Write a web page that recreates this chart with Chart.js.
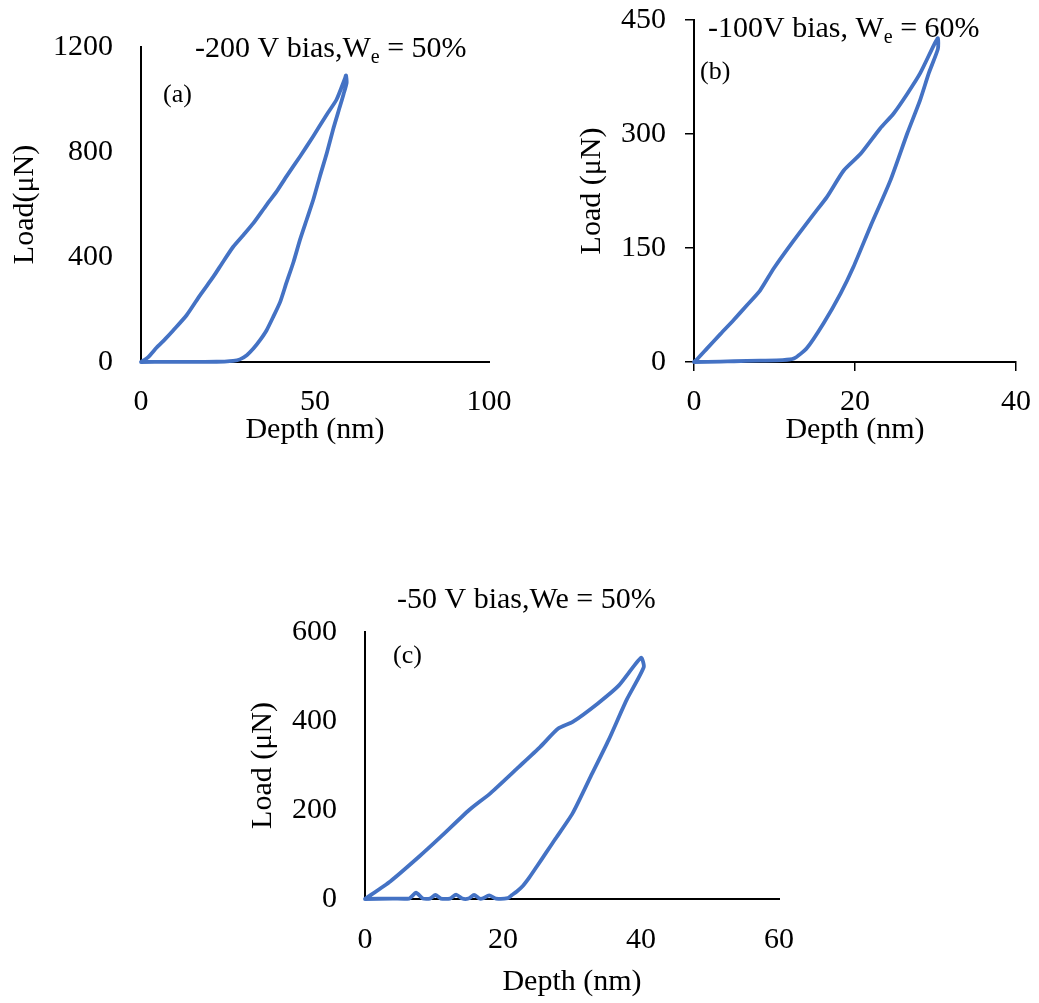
<!DOCTYPE html>
<html>
<head>
<meta charset="utf-8">
<title>Load-depth curves</title>
<script src="https://cdn.jsdelivr.net/npm/chart.js@4.4.1/dist/chart.umd.min.js"></script>
<style>
  body { margin: 0; background: #fff; width: 1039px; height: 1003px; position: relative; overflow: hidden; }
  canvas { position: absolute; }
</style>
</head>
<body>
<canvas id="chartA" width="520" height="460" style="left:0;top:0"></canvas>
<canvas id="chartB" width="479" height="460" style="left:560px;top:0"></canvas>
<canvas id="chartC" width="560" height="443" style="left:240px;top:560px"></canvas>
<script>
// (a) -200 V bias : loading, unloading, then back along zero
const depthA = [0, 2, 4.5, 7, 9.3, 13.1, 17, 20.8, 23.5, 26.5, 29.5, 32.3, 36.1, 39, 41.8, 45.7, 49.5, 53.4, 56.2, 58.6, 58.9,
  59.1, 58.2, 57.2, 55.2, 53.4, 51.4, 49.5, 47.6, 45.7, 43.8, 41.8, 40, 38, 36.1, 34.2, 32.3, 30.4, 28.4, 26.5, 24, 21.7, 15, 8, 0];
const loadA = [0, 18, 55, 88, 121, 178, 255, 325, 380, 439, 485, 529, 599, 650, 707, 783, 860, 943, 1000, 1080, 1092,
  1064, 1020, 975, 886, 796, 707, 618, 542, 466, 380, 302, 229, 172, 121, 83, 51, 26, 10, 4, 1.5, 1, 0.5, 0.3, 0];

// (b) -100 V bias
const depthB = [0, 0.5, 1.6, 3.3, 4.9, 6.6, 8.2, 9.9, 12.4, 14.9, 16.5, 18.6, 20.7, 23.1, 24.8, 26.5, 28.1, 29.8, 30.3,
  30.3, 29.2, 28.1, 26.5, 24.4, 21.9, 19.8, 18.2, 16.1, 14, 12.4, 11, 8.2, 5, 3.3, 0];
const loadB = [0, 5, 17.6, 37, 55, 75, 94, 123, 160, 195, 217, 252, 274, 307, 327, 353, 380, 417, 426,
  412, 381, 345, 301, 239, 178, 125, 90, 51, 18, 4.5, 2.5, 1.8, 1, 0.5, 0];

// (c) -50 V bias
const depthC = [0, 3.7, 7.9, 11, 15.1, 18.2, 22.3, 25.4, 28, 30.1, 33.7, 36.8, 40,
  40.4, 37.9, 35.3, 32.7, 30.1, 27.5, 26.2, 24.9, 23.8, 22.9, 22, 21.3, 20.7,
  19, 18, 17, 16.6, 15.8, 15, 14.1, 13.2, 12.3, 11, 10.2, 9.4, 8.4, 7.4, 6.4, 4, 0];
const loadC = [0, 40, 96, 140, 200, 238, 297, 342, 383, 398, 439, 480, 542,
  521, 447, 357, 275, 193, 133, 103, 73, 48, 30, 17, 9, 2,
  1, 8, 1, 1, 9, 1, 1, 10, 1, 1, 9, 1, 1, 14, 1, 1, 0];

// axis ticks
const xTicksA = [0, 50, 100];
const yTicksA = [0, 400, 800, 1200];
const xTicksB = [0, 20, 40];
const yTicksB = [0, 150, 300, 450];
const xTicksC = [0, 20, 40, 60];
const yTicksC = [0, 200, 400, 600];

const FONT = "'Liberation Serif', 'Times New Roman', serif";
const BLUE = '#4472C4';

// title with subscript + panel letter, drawn on top of the chart
const panelText = {
  id: 'panelText',
  afterDraw(chart, args, o) {
    const ctx = chart.ctx;
    ctx.save();
    ctx.fillStyle = '#000';
    ctx.textBaseline = 'alphabetic';
    let x = o.titleX;
    o.title.forEach(part => {
      ctx.font = (part.sub ? 20 : 30) + 'px ' + FONT;
      ctx.fillText(part.text, x, o.titleY + (part.sub ? 6 : 0));
      x += ctx.measureText(part.text).width;
    });
    ctx.font = '26px ' + FONT;
    ctx.textBaseline = 'middle';
    ctx.fillText(o.label, o.labelX, o.labelY);
    ctx.restore();
  }
};

function makeChart(id, c) {
  const pts = c.depth.map((d, i) => ({ x: d, y: c.load[i] }));
  const grid = c.tickMarks
    ? { display: true, drawOnChartArea: false, drawTicks: true, tickLength: 9, color: '#000', lineWidth: 1.5 }
    : { display: false, drawTicks: false };
  const tl = c.tickMarks ? 9 : 0;
  return new Chart(document.getElementById(id), {
    type: 'scatter',
    data: {
      datasets: [{
        data: pts,
        showLine: true,
        borderColor: BLUE,
        backgroundColor: BLUE,
        borderWidth: 3.8,
        pointRadius: 0,
        tension: 0.2,
        borderJoinStyle: 'round',
        borderCapStyle: 'round',
        clip: false
      }]
    },
    options: {
      responsive: false,
      animation: false,
      devicePixelRatio: 1,
      layout: { padding: { left: 0, top: c.top, right: c.right, bottom: 0 } },
      plugins: {
        legend: { display: false },
        tooltip: { enabled: false },
        panelText: c.text
      },
      scales: {
        x: {
          type: 'linear',
          min: c.xTicks[0],
          max: c.xTicks[c.xTicks.length - 1],
          afterBuildTicks: s => { s.ticks = c.xTicks.map(v => ({ value: v })); },
          afterFit: s => { s.height = c.xHeight; s.paddingLeft = 0; s.paddingRight = 0; },
          grid: grid,
          border: { display: true, color: '#000', width: 2 },
          ticks: { font: { family: FONT, size: 30 }, color: '#000', padding: c.xPad - tl, maxRotation: 0, callback: v => String(v) },
          title: { display: true, text: 'Depth (nm)', color: '#000', font: { family: FONT, size: 30 }, padding: { top: 0, bottom: c.xTitlePad } }
        },
        y: {
          type: 'linear',
          min: c.yTicks[0],
          max: c.yTicks[c.yTicks.length - 1],
          afterBuildTicks: s => { s.ticks = c.yTicks.map(v => ({ value: v })); },
          afterFit: s => { s.width = c.yWidth; s.paddingTop = 0; s.paddingBottom = 0; },
          grid: grid,
          border: { display: true, color: '#000', width: 2 },
          ticks: { font: { family: FONT, size: 30 }, color: '#000', padding: 28 - tl, callback: v => String(v) },
          title: { display: true, text: c.yTitle, color: '#000', font: { family: FONT, size: 30 }, padding: { top: c.yTitlePad, bottom: 0 } }
        }
      }
    },
    plugins: [panelText]
  });
}

makeChart('chartA', {
  depth: depthA, load: loadA, xTicks: xTicksA, yTicks: yTicksA, tickMarks: false,
  top: 47, right: 31, xHeight: 98, yWidth: 141, xPad: 22, xTitlePad: 12, yTitlePad: 7,
  yTitle: 'Load(\u03bcN)',
  text: {
    title: [{ text: '-200 V bias,W' }, { text: 'e', sub: true }, { text: ' = 50%' }],
    titleX: 195, titleY: 57, label: '(a)', labelX: 163, labelY: 95
  }
});

makeChart('chartB', {
  depth: depthB, load: loadB, xTicks: xTicksB, yTicks: yTicksB, tickMarks: true,
  top: 20, right: 23, xHeight: 98, yWidth: 134, xPad: 22, xTitlePad: 12, yTitlePad: 14,
  yTitle: 'Load (\u03bcN)',
  text: {
    title: [{ text: '-100V bias, W' }, { text: 'e', sub: true }, { text: ' = 60%' }],
    titleX: 148, titleY: 37, label: '(b)', labelX: 140, labelY: 72
  }
});

makeChart('chartC', {
  depth: depthC, load: loadC, xTicks: xTicksC, yTicks: yTicksC, tickMarks: false,
  top: 72, right: 21, xHeight: 104, yWidth: 125, xPad: 23, xTitlePad: 3, yTitlePad: 5,
  yTitle: 'Load (\u03bcN)',
  text: {
    title: [{ text: '-50 V bias,We = 50%' }],
    titleX: 157, titleY: 48, label: '(c)', labelX: 153, labelY: 96
  }
});
</script>
</body>
</html>
